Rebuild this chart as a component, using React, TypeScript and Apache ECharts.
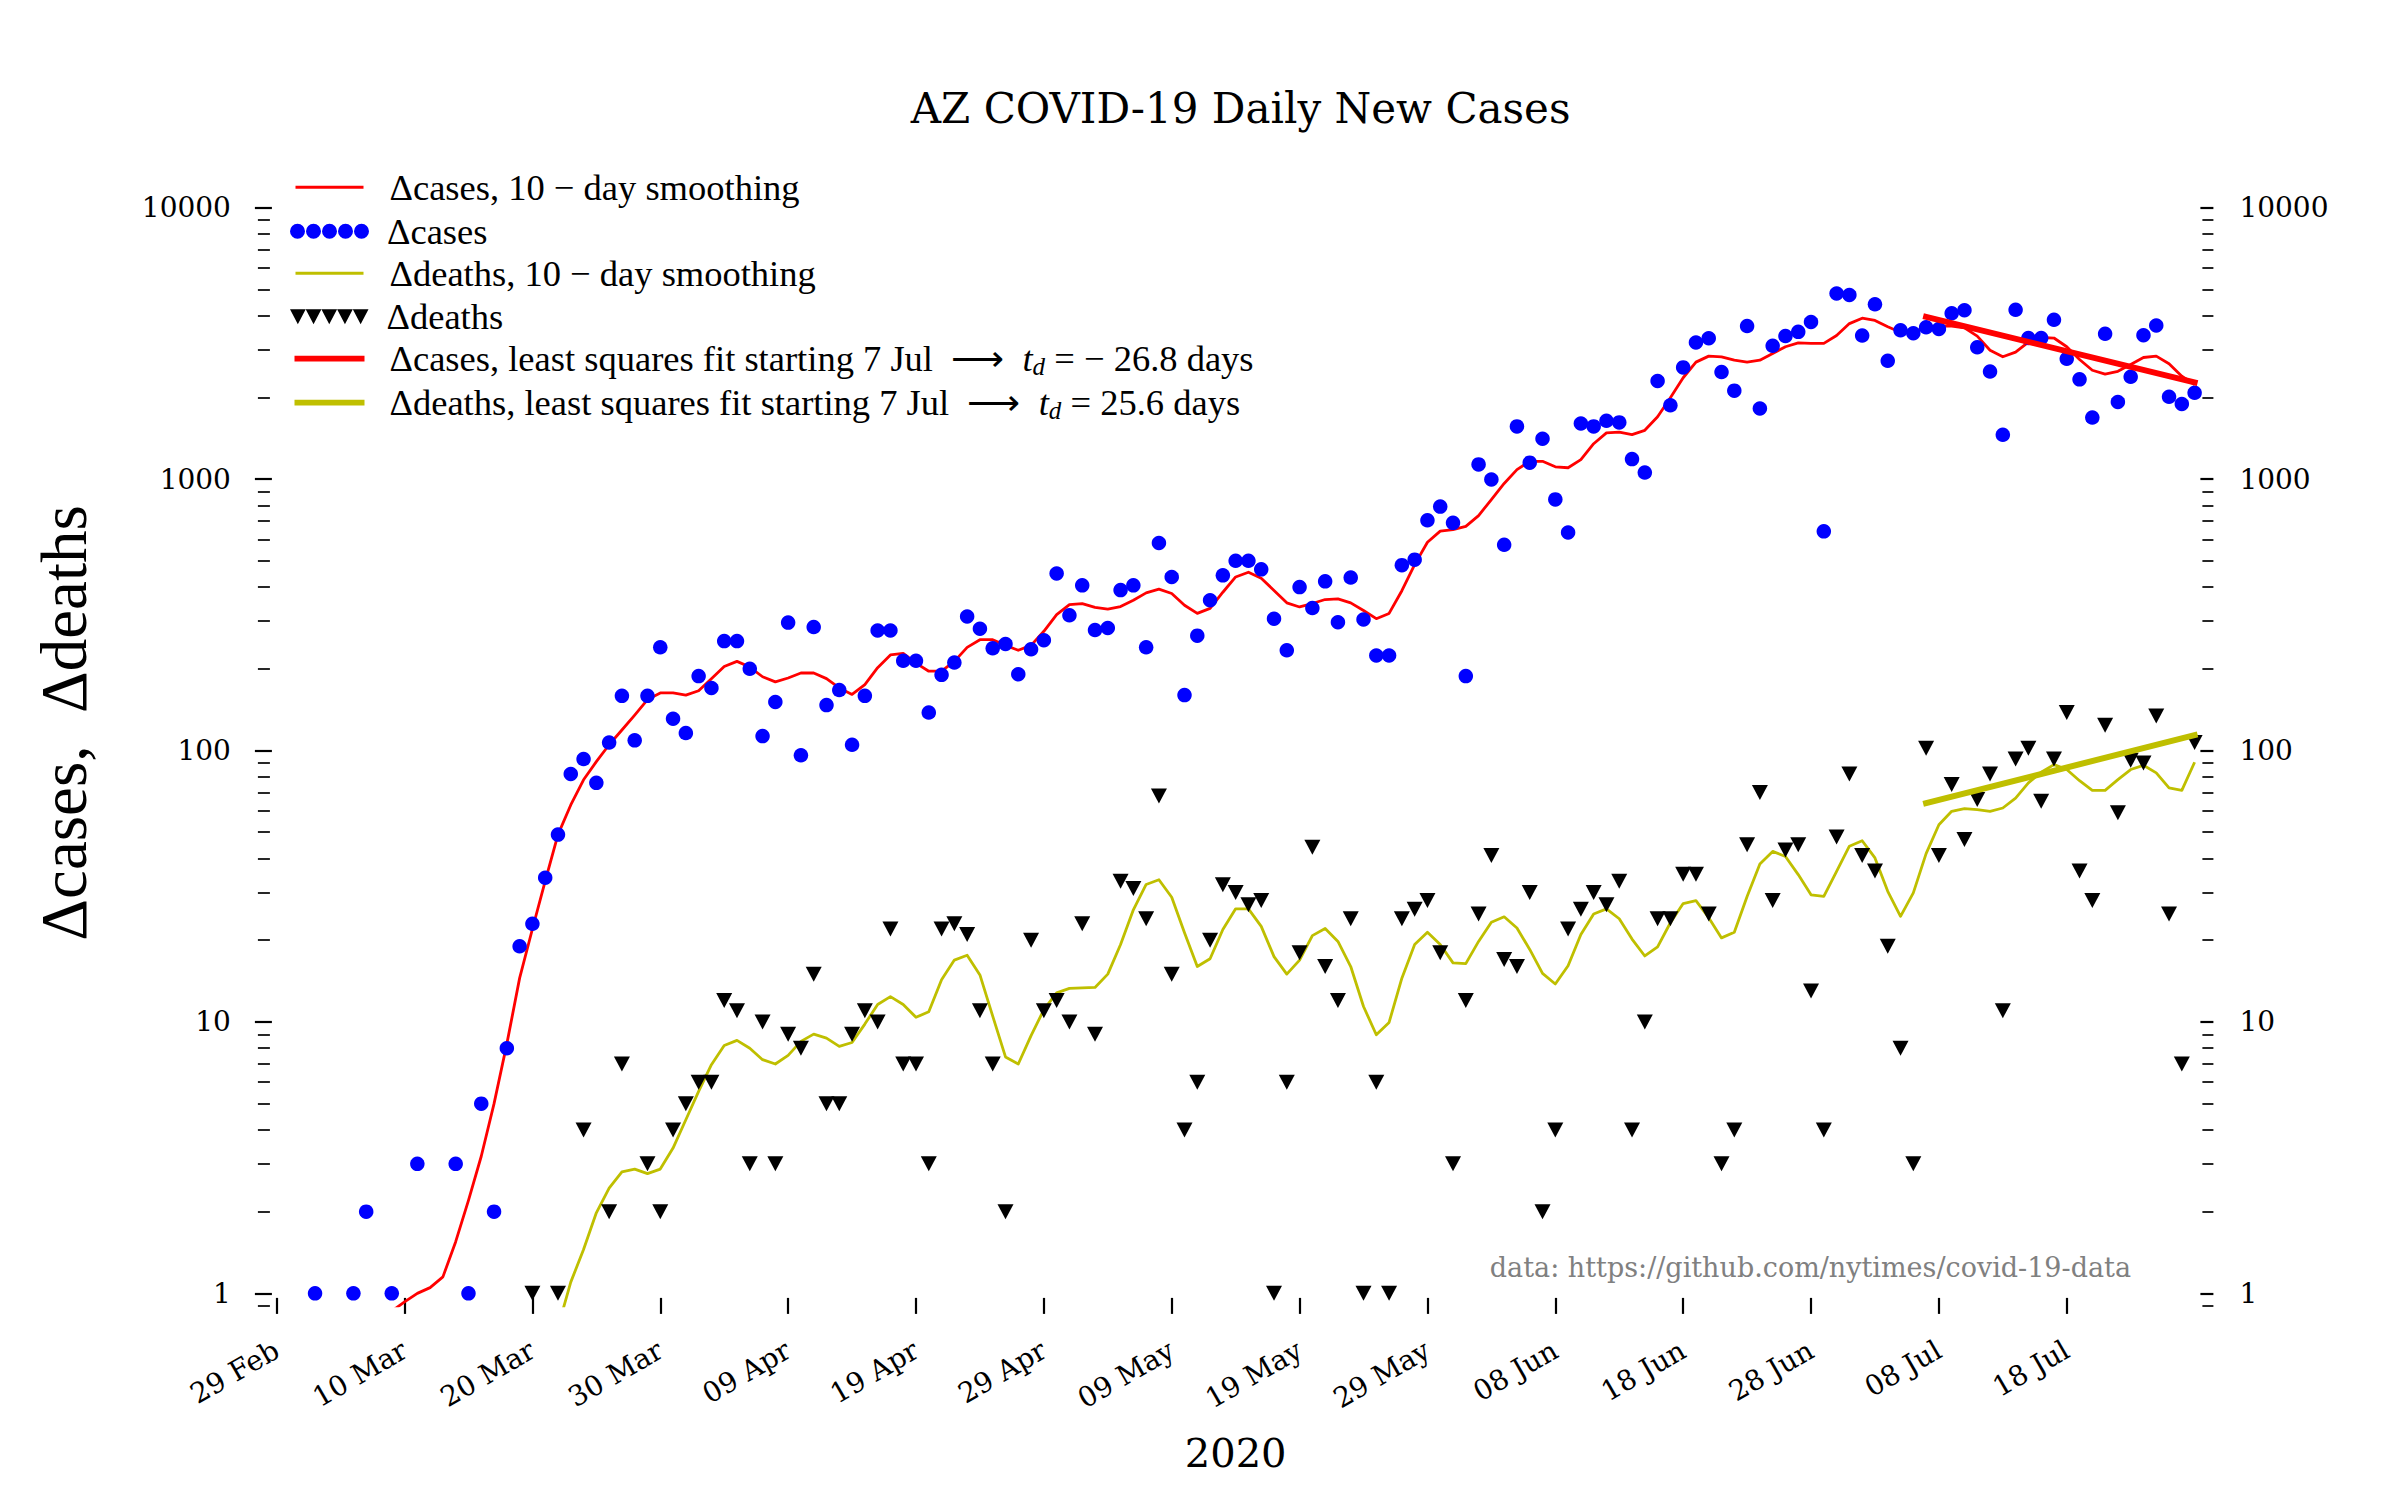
import React, { useEffect, useRef } from "react";
import * as echarts from "echarts";

// ---------- data (day index 0 = 29 Feb 2020) ----------
const xTickDays = [0, 10, 20, 30, 40, 50, 60, 70, 80, 90, 100, 110, 120, 130, 140];
const xTickLabels = [
  "29 Feb", "10 Mar", "20 Mar", "30 Mar", "09 Apr", "19 Apr", "29 Apr", "09 May",
  "19 May", "29 May", "08 Jun", "18 Jun", "28 Jun", "08 Jul", "18 Jul",
];
const yMajorTicks = [1, 10, 100, 1000, 10000];
const yMinorTicks = [
  0.9, 2, 3, 4, 5, 6, 7, 8, 9, 20, 30, 40, 50, 60, 70, 80, 90,
  200, 300, 400, 500, 600, 700, 800, 900, 2000, 3000, 4000, 5000, 6000, 7000, 8000, 9000,
];

// daily new cases (null = zero, not drawn on log axis)
const casesDaily = [
  null, null, null, 1, null, null, 1, 2, null, 1,
  null, 3, null, null, 3, 1, 5, 2, 8, 19,
  23, 34, 49, 82, 93, 76, 107, 159, 109, 159,
  240, 131, 116, 188, 170, 253, 253, 200, 113, 151,
  296, 96, 285, 147, 167, 105, 159, 277, 277, 214,
  214, 138, 190, 211, 312, 281, 238, 247, 191, 236,
  255, 449, 315, 406, 278, 283, 390, 406, 240, 582,
  436, 160, 265, 358, 442, 500, 500, 465, 306, 234,
  400, 335, 420, 297, 434, 304, 224, 224, 482, 505,
  705, 792, 690, 188, 1133, 997, 573, 1564, 1150, 1409,
  842, 636, 1603, 1564, 1640, 1618, 1185, 1057, 2300, 1870,
  2580, 3187, 3305, 2480, 2118, 3664, 1821, 3100, 3365, 3488,
  3793, 642, 4830, 4770, 3380, 4405, 2728, 3535, 3447, 3625,
  3575, 4083, 4190, 3060, 2490, 1456, 4204, 3310, 3310, 3864,
  2775, 2331, 1686, 3430, 1925, 2383, 3390, 3684, 2011, 1892,
  2080,
];

// 10-day smoothed cases
const casesSmooth = [
  null, null, null, null, null, null, null, null, null, 0.86,
  0.93, 1.0, 1.05, 1.15, 1.55, 2.2, 3.2, 5.0, 8.3, 14.5,
  22, 33, 49, 63, 78, 91, 105, 119, 135, 154,
  163, 163, 160, 166, 184, 204, 213, 203, 187, 179,
  185, 193, 193, 184, 170, 161, 175, 202, 225, 228,
  210, 196, 196, 213, 240, 256, 256, 244, 234, 244,
  275, 317, 345, 348, 337, 332, 339, 358, 381, 393,
  379, 343, 320, 334, 383, 436, 454, 431, 389, 350,
  338, 348, 360, 362, 350, 328, 306, 320, 388, 484,
  585, 643, 652, 670, 734, 841, 964, 1084, 1163, 1163,
  1110, 1101, 1180, 1350, 1480, 1489, 1459, 1513, 1697, 1995,
  2363, 2698, 2839, 2823, 2743, 2698, 2743, 2904, 3074, 3177,
  3162, 3162, 3381, 3741, 3917, 3843, 3641, 3478, 3478, 3641,
  3661, 3661, 3610, 3365, 2985, 2823, 2938, 3198, 3325, 3310,
  3074, 2760, 2518, 2436, 2495, 2643, 2806, 2838, 2661, 2393,
  2232,
];

// daily new deaths
const deathsDaily = [
  null, null, null, null, null, null, null, null, null, null,
  null, null, null, null, null, null, null, null, null, null,
  1, null, 1, null, 4, null, 2, 7, null, 3,
  2, 4, 5, 6, 6, 12, 11, 3, 10, 3,
  9, 8, 15, 5, 5, 9, 11, 10, 22, 7,
  7, 3, 22, 23, 21, 11, 7, 2, null, 20,
  11, 12, 10, 23, 9, null, 33, 31, 24, 68,
  15, 4, 6, 20, 32, 30, 27, 28, 1, 6,
  18, 44, 16, 12, 24, 1, 6, 1, 24, 26,
  28, 18, 3, 12, 25, 41, 17, 16, 30, 2,
  4, 22, 26, 30, 27, 33, 4, 10, 24, 24,
  35, 35, 25, 3, 4, 45, 70, 28, 43, 45,
  13, 4, 48, 82, 41, 36, 19, 8, 3, 102,
  41, 75, 47, 66, 82, 11, 93, 102, 65, 93,
  138, 36, 28, 124, 59, 92, 90, 134, 25, 7,
  107,
];

// 10-day smoothed deaths
const deathsSmooth = [
  null, null, null, null, null, null, null, null, null, null,
  null, null, null, null, null, null, null, null, null, null,
  null, null, 0.75, 1.1, 1.45, 1.98, 2.44, 2.8, 2.87, 2.76,
  2.87, 3.43, 4.36, 5.55, 6.96, 8.19, 8.55, 8.0, 7.26, 7.0,
  7.53, 8.48, 9.02, 8.72, 8.13, 8.4, 9.82, 11.6, 12.4, 11.6,
  10.4, 10.9, 14.3, 16.9, 17.6, 14.9, 10.5, 7.43, 7.0, 8.9,
  11.1, 12.8, 13.3, 13.35, 13.4, 15.0, 19.3, 25.9, 32.1, 33.4,
  28.8, 21.3, 16.0, 17.1, 21.9, 26.1, 26.1, 22.5, 17.4, 15.0,
  16.9, 20.8, 22.1, 19.8, 16.0, 11.4, 8.97, 9.96, 14.5, 19.3,
  21.4, 19.3, 16.5, 16.4, 19.8, 23.3, 24.4, 22.2, 18.5, 15.1,
  13.8, 16.1, 21.0, 25.0, 26.1, 24.0, 20.2, 17.5, 18.9, 23.2,
  27.3, 28.0, 24.2, 20.4, 21.4, 29.0, 38.2, 42.5, 40.7, 34.9,
  29.4, 29.0, 35.9, 44.4, 46.5, 40.2, 30.3, 24.5, 29.9, 41.7,
  53.3, 59.7, 61.1, 60.6, 59.7, 61.4, 66.8, 76.0, 83.2, 88.7,
  85.1, 77.4, 71.3, 71.3, 78.1, 85.1, 88.2, 82.7, 72.8, 71.3,
  90.5,
];

// least-squares fit segments starting 7 Jul (day 129)
const fitDays = [129, 150];
const casesFit = [3960, 2270];
const deathsFit = [64, 114];

// ---------- styling ----------
const SERIF = "DejaVu Serif";
const MATH = "Liberation Serif";
const RED = "#ff0000";
const BLUE = "#0000ff";
const OLIVE = "#bfbf00";
const X_MIN = -1;
const X_MAX = 151;
const Y_MIN = 0.899;
const Y_MAX = 10000;
const GRID_LEFT = 263.9;
const GRID_WIDTH = 1943.5;
const LEGEND_FS = 36.5;

const pairs = (arr: (number | null)[]) => arr.map((v, i) => [i, v]);
const points = (arr: (number | null)[]) =>
  arr.map((v, i) => [i, v]).filter((p) => p[1] !== null);

const DOTS_ICON =
  "path://" +
  [0, 1, 2, 3, 4]
    .map((k) => {
      const cx = 7.5 + 16 * k;
      return `M${cx - 7.5},7.5 a7.5,7.5 0 1,0 15,0 a7.5,7.5 0 1,0 -15,0 Z`;
    })
    .join(" ");
const TRI_ICON =
  "path://" +
  [0, 1, 2, 3, 4]
    .map((k) => {
      const x = 15.7 * k;
      return `M${x},0 L${x + 15.7},0 L${x + 7.85},15 Z`;
    })
    .join(" ");

const legendRich = {
  n: { fontFamily: MATH, fontSize: LEGEND_FS, color: "#000", lineHeight: 40, verticalAlign: "middle" },
  i: { fontFamily: MATH, fontSize: LEGEND_FS, fontStyle: "italic", color: "#000", lineHeight: 40, verticalAlign: "middle" },
  sub: { fontFamily: MATH, fontSize: 25, fontStyle: "italic", color: "#000", lineHeight: 22, verticalAlign: "bottom" },
  sp13: { width: 13, lineHeight: 40 },
  sp21: { width: 21, lineHeight: 40 },
  sp20: { width: 20, lineHeight: 40 },
};

const legendLabels: Record<string, string> = {
  casesSmooth: "{sp21| }{n|Δcases, 10 − day smoothing}",
  casesDaily: "{sp13| }{n|Δcases}",
  deathsSmooth: "{sp21| }{n|Δdeaths, 10 − day smoothing}",
  deathsDaily: "{sp13| }{n|Δdeaths}",
  casesFit: "{sp20| }{n|Δcases, least squares fit starting 7 Jul  ⟶  }{i|t}{sub|d}{n| = − 26.8 days}",
  deathsFit: "{sp20| }{n|Δdeaths, least squares fit starting 7 Jul  ⟶  }{i|t}{sub|d}{n| = 25.6 days}",
};

const legendRows = [
  { name: "casesSmooth", icon: "rect", color: RED, left: 295.5, w: 68, h: 3, cy: 187.3 },
  { name: "casesDaily", icon: DOTS_ICON, color: BLUE, left: 290, w: 79, h: 15, cy: 231.3 },
  { name: "deathsSmooth", icon: "rect", color: OLIVE, left: 295.5, w: 68, h: 3, cy: 273.3 },
  { name: "deathsDaily", icon: TRI_ICON, color: "#000", left: 290, w: 78.5, h: 15, cy: 316.7 },
  { name: "casesFit", icon: "rect", color: RED, left: 294.5, w: 70, h: 5.7, cy: 358.7 },
  { name: "deathsFit", icon: "rect", color: OLIVE, left: 294.5, w: 70, h: 5.7, cy: 402.7 },
];

const tickLine = (w: number) => ({ color: "#000", width: w });
const yBase = {
  type: "log",
  logBase: 10,
  min: Y_MIN,
  max: Y_MAX,
  axisLine: { show: false, onZero: false },
  splitLine: { show: false },
  minorTick: { show: false },
};
const yLabel = (margin: number) => ({
  show: true,
  customValues: yMajorTicks,
  margin,
  formatter: (v: number) => String(Math.round(v)),
  fontFamily: SERIF,
  fontSize: 28,
  color: "#000",
});

const option = {
  animation: false,
  backgroundColor: "#ffffff",
  title: {
    text: "AZ COVID-19 Daily New Cases",
    left: GRID_LEFT + GRID_WIDTH / 2,
    textAlign: "center",
    top: 82,
    textStyle: { fontFamily: SERIF, fontSize: 42, fontWeight: "normal", color: "#000" },
  },
  grid: {
    left: GRID_LEFT,
    top: 207.7,
    width: GRID_WIDTH,
    height: 1098.2,
    containLabel: false,
    outerBoundsMode: "none",
  },
  legend: legendRows.map((r) => ({
    orient: "vertical",
    left: r.left,
    top: r.cy - 20,
    padding: 0,
    itemGap: 0,
    itemWidth: r.w,
    itemHeight: r.h,
    selectedMode: false,
    data: [{ name: r.name, icon: r.icon, itemStyle: { color: r.color, borderWidth: 0 } }],
    formatter: (name: string) => legendLabels[name],
    textStyle: { fontFamily: MATH, fontSize: LEGEND_FS, color: "#000", lineHeight: 40, rich: legendRich },
  })),
  xAxis: [
    {
      type: "value",
      min: X_MIN,
      max: X_MAX,
      position: "bottom",
      offset: -8,
      axisLine: { show: false, onZero: false },
      splitLine: { show: false },
      axisTick: { show: true, customValues: xTickDays, length: 16, lineStyle: tickLine(2.2) },
      axisLabel: {
        show: true,
        customValues: xTickDays,
        rotate: 30,
        margin: 50,
        formatter: (v: number) => {
          const k = xTickDays.indexOf(Math.round(v));
          return k >= 0 ? xTickLabels[k] : "";
        },
        fontFamily: SERIF,
        fontSize: 28,
        color: "#000",
      },
      name: "2020",
      nameLocation: "middle",
      nameGap: 135,
      nameTextStyle: { fontFamily: SERIF, fontSize: 40, color: "#000" },
    },
  ],
  yAxis: [
    {
      ...yBase,
      position: "left",
      offset: -8,
      axisTick: { show: true, customValues: yMajorTicks, length: 17, lineStyle: tickLine(2.2) },
      axisLabel: yLabel(41),
    },
    {
      ...yBase,
      position: "left",
      offset: -6,
      axisTick: { show: true, customValues: yMinorTicks, length: 12, lineStyle: tickLine(1.7) },
      axisLabel: { show: false },
    },
    {
      ...yBase,
      position: "right",
      offset: -7,
      axisTick: { show: true, customValues: yMajorTicks, length: 13, lineStyle: tickLine(2.2) },
      axisLabel: yLabel(39),
    },
    {
      ...yBase,
      position: "right",
      offset: -5,
      axisTick: { show: true, customValues: yMinorTicks, length: 11, lineStyle: tickLine(1.7) },
      axisLabel: { show: false },
    },
  ],
  graphic: [
    {
      type: "text",
      x: 64,
      y: 723,
      rotation: Math.PI / 2,
      style: {
        text: "Δcases,  Δdeaths",
        fontFamily: MATH,
        fontSize: 65,
        fill: "#000",
        align: "center",
        verticalAlign: "middle",
      },
    },
    {
      type: "text",
      x: 2131,
      y: 1267,
      style: {
        text: "data: https://github.com/nytimes/covid-19-data",
        fontFamily: SERIF,
        fontSize: 27,
        fill: "#808080",
        align: "right",
        verticalAlign: "middle",
      },
    },
  ],
  series: [
    {
      name: "casesSmooth",
      type: "line",
      data: pairs(casesSmooth),
      showSymbol: false,
      symbol: "none",
      clip: true,
      lineStyle: { color: RED, width: 2.8, join: "round" },
      itemStyle: { color: RED },
      z: 2,
      silent: true,
    },
    {
      name: "casesDaily",
      type: "scatter",
      data: points(casesDaily),
      symbol: "circle",
      symbolSize: 14.5,
      itemStyle: { color: BLUE, opacity: 1 },
      z: 3,
      silent: true,
    },
    {
      name: "deathsSmooth",
      type: "line",
      data: pairs(deathsSmooth),
      showSymbol: false,
      symbol: "none",
      clip: true,
      lineStyle: { color: OLIVE, width: 2.8, join: "round" },
      itemStyle: { color: OLIVE },
      z: 4,
      silent: true,
    },
    {
      name: "deathsDaily",
      type: "scatter",
      data: points(deathsDaily),
      symbol: "triangle",
      symbolRotate: 180,
      symbolSize: [16, 15],
      itemStyle: { color: "#000", opacity: 1 },
      z: 5,
      silent: true,
    },
    {
      name: "casesFit",
      type: "line",
      data: fitDays.map((d, i) => [d, casesFit[i]]),
      showSymbol: false,
      symbol: "none",
      lineStyle: { color: RED, width: 6, cap: "square" },
      itemStyle: { color: RED },
      z: 6,
      silent: true,
    },
    {
      name: "deathsFit",
      type: "line",
      data: fitDays.map((d, i) => [d, deathsFit[i]]),
      showSymbol: false,
      symbol: "none",
      lineStyle: { color: OLIVE, width: 6, cap: "square" },
      itemStyle: { color: OLIVE },
      z: 7,
      silent: true,
    },
  ],
};

export default function App() {
  const ref = useRef<HTMLDivElement>(null);
  useEffect(() => {
    document.body.style.margin = "0";
    const chart = echarts.init(ref.current as HTMLDivElement, null, { renderer: "svg" });
    chart.setOption(option as any);
    return () => {
      chart.dispose();
    };
  }, []);
  return <div ref={ref} style={{ width: 2400, height: 1500, background: "#fff" }} />;
}
